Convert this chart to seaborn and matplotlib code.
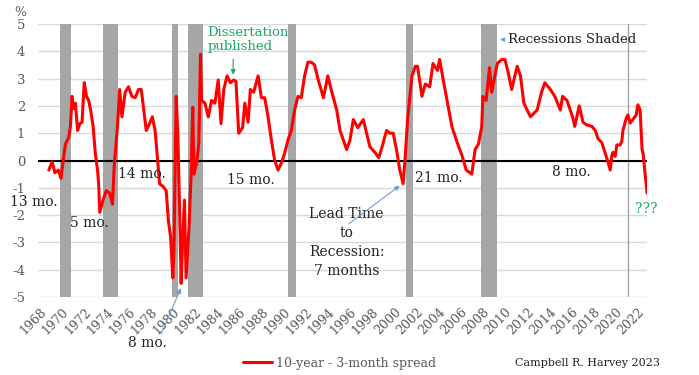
import matplotlib
matplotlib.use("Agg")
import matplotlib.pyplot as plt
import seaborn as sns
import pandas as pd

# 10-year minus 3-month spread (decimal year, %)
years = [1968.8, 1969.1, 1969.35, 1969.65, 1969.9, 1970.1, 1970.3, 1970.6, 1970.75, 1970.9,
         1971.05, 1971.2, 1971.4, 1971.6, 1971.8, 1972.0, 1972.2, 1972.4, 1972.6, 1972.8,
         1973.0, 1973.2, 1973.3, 1973.4, 1973.7, 1974.0, 1974.3, 1974.55, 1974.7, 1975.0,
         1975.2, 1975.4, 1975.7, 1976.0, 1976.3, 1976.6, 1976.9, 1977.15, 1977.3, 1977.6,
         1977.9, 1978.15, 1978.4, 1978.6, 1978.8, 1979.1, 1979.4, 1979.6, 1979.8, 1980.0,
         1980.1, 1980.3, 1980.45, 1980.6, 1980.75, 1980.9, 1981.05, 1981.2, 1981.45, 1981.65,
         1981.8, 1981.9, 1982.15, 1982.35, 1982.5, 1982.6, 1982.9, 1983.2, 1983.5, 1983.8,
         1984.1, 1984.35, 1984.6, 1984.9, 1985.2, 1985.5, 1985.7, 1985.95, 1986.3, 1986.5,
         1986.8, 1987.0, 1987.3, 1987.7, 1988.0, 1988.3, 1988.6, 1988.9, 1989.2, 1989.5,
         1989.8, 1990.1, 1990.4, 1990.7, 1991.0, 1991.3, 1991.6, 1991.9, 1992.2, 1992.5,
         1992.8, 1993.1, 1993.6, 1994.0, 1994.3, 1994.8, 1995.1, 1995.4, 1995.7, 1996.0,
         1996.3, 1996.7, 1997.2, 1997.5, 1997.8, 1998.3, 1998.6, 1998.9, 1999.3, 1999.6,
         1999.9, 2000.2, 2000.5, 2000.8, 2001.0, 2001.2, 2001.6, 2001.9, 2002.1, 2002.5,
         2002.8, 2003.2, 2003.5, 2003.9, 2004.1, 2004.4, 2004.7, 2005.2, 2005.6, 2006.1,
         2006.5, 2007.0, 2007.3, 2007.6, 2007.9, 2008.0, 2008.3, 2008.6, 2008.8, 2009.3,
         2009.7, 2010.0, 2010.3, 2010.6, 2011.1, 2011.4, 2011.7, 2012.3, 2012.9, 2013.3,
         2013.6, 2014.1, 2014.5, 2015.0, 2015.2, 2015.6, 2016.1, 2016.3, 2016.7, 2017.05,
         2017.4, 2017.85, 2018.15, 2018.4, 2018.75, 2019.05, 2019.3, 2019.5, 2019.65, 2019.75,
         2019.95, 2020.1, 2020.4, 2020.55, 2020.65, 2020.95, 2021.1, 2021.3, 2021.55, 2021.85,
         2022.0, 2022.2, 2022.38, 2022.47, 2022.65, 2022.83]
spread = [-0.35, -0.05, -0.45, -0.35, -0.65, 0.0, 0.6, 0.85, 1.25, 2.35,
          1.9, 2.1, 1.1, 1.35, 1.4, 2.85, 2.35, 2.2, 1.8, 1.25,
          0.25, -0.35, -0.85, -1.9, -1.45, -1.1, -1.2, -1.6, -0.25, 1.25,
          2.6, 1.6, 2.5, 2.7, 2.35, 2.3, 2.6, 2.6, 2.1, 1.1,
          1.35, 1.6, 1.1, 0.15, -0.85, -0.95, -1.1, -2.2, -2.8, -4.3,
          -3.4, 2.35, 1.0, -1.6, -4.5, -2.8, -1.45, -4.3, -2.55, -0.5,
          1.95, -0.5, -0.1, 0.65, 3.9, 2.2, 2.1, 1.6, 2.2, 2.1,
          2.95, 1.35, 2.6, 3.1, 2.85, 2.95, 2.9, 1.0, 1.2, 2.1,
          1.4, 2.6, 2.5, 3.1, 2.3, 2.3, 1.6, 0.75, 0.0, -0.35,
          -0.1, 0.27, 0.75, 1.1, 1.85, 2.35, 2.3, 3.1, 3.6, 3.6,
          3.5, 3.0, 2.3, 3.1, 2.6, 1.85, 1.1, 0.75, 0.4, 0.75,
          1.5, 1.2, 1.5, 1.0, 0.5, 0.27, 0.1, 0.5, 1.1, 1.0,
          1.0, 0.4, -0.35, -0.85, 0.2, 1.5, 3.1, 3.45, 3.45, 2.35,
          2.8, 2.7, 3.55, 3.3, 3.7, 3.0, 2.35, 1.25, 0.75, 0.2,
          -0.35, -0.5, 0.4, 0.6, 1.25, 2.35, 2.2, 3.4, 2.5, 3.55,
          3.7, 3.7, 3.2, 2.6, 3.45, 3.1, 2.1, 1.6, 1.85, 2.5,
          2.85, 2.6, 2.35, 1.85, 2.35, 2.2, 1.6, 1.25, 2.0, 1.4,
          1.3, 1.25, 1.1, 0.8, 0.65, 0.27, -0.05, -0.35, 0.2, 0.3,
          0.15, 0.57, 0.57, 0.7, 1.1, 1.55, 1.67, 1.37, 1.5, 1.67,
          2.04, 1.86, 0.39, 0.27, -0.47, -1.2]

# recession periods (start, end) shaded on the chart
rec_start = [1969.8, 1973.7, 1979.9, 1981.35, 1990.4, 2001.05, 2007.85]
rec_end = [1970.8, 1975.05, 1980.45, 1982.7, 1991.1, 2001.7, 2009.3]

tick_years = list(range(1968, 2023, 2))
y_ticks = [-5, -4, -3, -2, -1, 0, 1, 2, 3, 4, 5]

df = pd.DataFrame({"year": years, "spread": spread})

sns.set_style("white")
plt.rcParams["font.family"] = ["DejaVu Serif"]

fig = plt.figure(figsize=(6.99, 3.75), dpi=100)
ax = fig.add_axes([0.054, 0.208, 0.872, 0.728])

for s, e in zip(rec_start, rec_end):
    ax.axvspan(s, e, color="#a6a6a6", lw=0, zorder=1)
ax.axvline(2021.1, color="#a6a6a6", lw=1, zorder=1)

ax.yaxis.grid(True, color="#d9d9d9", lw=1, zorder=0)
ax.axhline(0, color="black", lw=1.5, zorder=2)

sns.lineplot(data=df, x="year", y="spread", color="#ff0000", lw=2.2, sort=False,
             ax=ax, zorder=3, label="10-year - 3-month spread", legend=False)

ax.set_xlim(1967.8, 2022.85)
ax.set_ylim(-5, 5)
ax.set_xticks(tick_years)
ax.set_xticklabels([str(y) for y in tick_years], rotation=45, ha="right",
                   rotation_mode="anchor", color="#595959", fontsize=9)
ax.set_yticks(y_ticks)
ax.set_yticklabels([str(y) for y in y_ticks], color="#595959", fontsize=9.5)
ax.tick_params(axis="both", length=0)
ax.tick_params(axis="y", pad=9)
ax.tick_params(axis="x", pad=6)
ax.set_xlabel("")
ax.set_ylabel("")
for sp in ax.spines.values():
    sp.set_visible(False)

fig.text(0.029, 0.968, "%", color="#595959", fontsize=9, ha="center", va="center")

dark = "#222222"
green = "#1fa864"
blue = "#6f9fd8"

ax.text(1967.46, -1.53, "13 mo.", color=dark, fontsize=10, ha="center", va="center")
ax.text(1972.5, -2.3, "5 mo.", color=dark, fontsize=10, ha="center", va="center")
ax.text(1977.2, -0.5, "14 mo.", color=dark, fontsize=10, ha="center", va="center")
ax.text(1987.0, -0.72, "15 mo.", color=dark, fontsize=10, ha="center", va="center")
ax.text(2004.0, -0.65, "21 mo.", color=dark, fontsize=10, ha="center", va="center")
ax.text(2016.0, -0.43, "8 mo.", color=dark, fontsize=10, ha="center", va="center")
ax.text(1977.7, -6.7, "8 mo.", color=dark, fontsize=10, ha="center", va="center")
ax.annotate("", xy=(1980.83, -4.58), xytext=(1978.84, -6.45),
            arrowprops=dict(arrowstyle="-|>", color=blue, lw=0.8, mutation_scale=7))

ax.text(1995.7, -3.0, "Lead Time\nto\nRecession:\n7 months", color=dark, fontsize=10,
        ha="center", va="center", linespacing=1.45)
ax.annotate("", xy=(2000.7, -0.86), xytext=(1995.73, -2.37),
            arrowprops=dict(arrowstyle="-|>", color=blue, lw=0.8, mutation_scale=7))

ax.text(1983.1, 4.45, "Dissertation\npublished", color=green, fontsize=9.5,
        ha="left", va="center", linespacing=1.1)
ax.annotate("", xy=(1985.45, 3.04), xytext=(1985.45, 3.82),
            arrowprops=dict(arrowstyle="-|>", color=green, lw=0.8, mutation_scale=7))

ax.text(2010.3, 4.43, "Recessions Shaded", color=dark, fontsize=9.5, ha="left", va="center")
ax.annotate("", xy=(2009.3, 4.43), xytext=(2010.15, 4.43),
            arrowprops=dict(arrowstyle="-|>", color=blue, lw=0.8, mutation_scale=6))

ax.text(2022.8, -1.78, "???", color=green, fontsize=10, ha="center", va="center")

handles, labels = ax.get_legend_handles_labels()
leg = fig.legend(handles, labels, loc="center", bbox_to_anchor=(0.486, 0.032),
                 frameon=False, fontsize=9, handlelength=2.3, handletextpad=0.3)
for t in leg.get_texts():
    t.set_color("#595959")

fig.text(0.737, 0.032, "Campbell R. Harvey 2023", color=dark, fontsize=8,
         ha="left", va="center")

fig.savefig("out.png", dpi=100)
